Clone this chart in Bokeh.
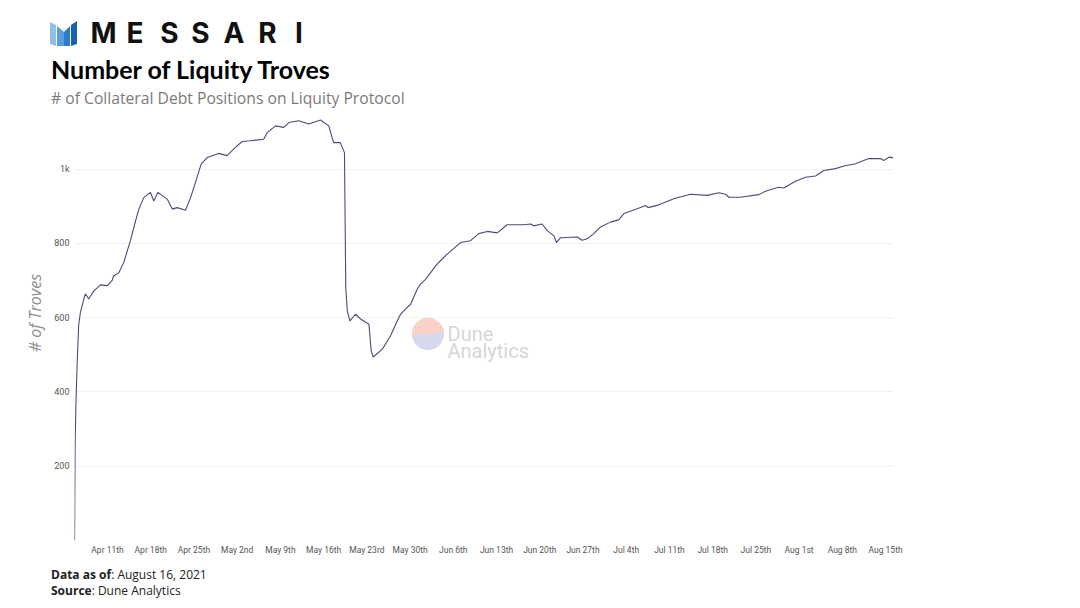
import numpy as np
import pandas as pd
from bokeh.plotting import figure
from bokeh.layouts import column
from bokeh.models import Range1d, FixedTicker, Label, PolyAnnotation, Div
from bokeh.embed import file_html
from bokeh.resources import INLINE

# ---------------- data ----------------
times = [
    "2021-04-05 16:00", "2021-04-05 18:00", "2021-04-05 21:00", "2021-04-06 02:00",
    "2021-04-06 08:00", "2021-04-06 15:00", "2021-04-07 04:00", "2021-04-07 10:00",
    "2021-04-07 23:00", "2021-04-08 19:00", "2021-04-09 21:00", "2021-04-11 00:00",
    "2021-04-11 18:00", "2021-04-12 00:00", "2021-04-12 20:00", "2021-04-13 15:00",
    "2021-04-14 17:00", "2021-04-15 13:00", "2021-04-16 02:00", "2021-04-16 21:00",
    "2021-04-17 23:00", "2021-04-18 12:00", "2021-04-19 04:00", "2021-04-20 16:00",
    "2021-04-21 12:00", "2021-04-22 07:00", "2021-04-23 15:00", "2021-04-24 11:00",
    "2021-04-25 06:00", "2021-04-26 04:00", "2021-04-27 04:00", "2021-04-29 00:00",
    "2021-04-30 09:00", "2021-05-01 11:00", "2021-05-02 19:00", "2021-05-04 04:00",
    "2021-05-06 07:00", "2021-05-06 21:00", "2021-05-08 05:00", "2021-05-09 13:00",
    "2021-05-10 09:00", "2021-05-11 23:00", "2021-05-13 14:00", "2021-05-15 12:00",
    "2021-05-16 20:00", "2021-05-17 05:00", "2021-05-17 15:00", "2021-05-18 17:00",
    "2021-05-19 09:00", "2021-05-19 14:00", "2021-05-19 20:00", "2021-05-20 06:00",
    "2021-05-21 04:00", "2021-05-22 00:00", "2021-05-23 08:00", "2021-05-23 17:00",
    "2021-05-24 01:00", "2021-05-25 12:00", "2021-05-26 20:00", "2021-05-27 22:00",
    "2021-05-28 11:00", "2021-05-29 06:00", "2021-05-30 02:00", "2021-05-31 04:00",
    "2021-05-31 17:00", "2021-06-01 12:00", "2021-06-03 09:00", "2021-06-03 22:00",
    "2021-06-05 00:00", "2021-06-07 04:00", "2021-06-08 19:00", "2021-06-10 03:00",
    "2021-06-11 12:00", "2021-06-13 03:00", "2021-06-14 17:00", "2021-06-17 10:00",
    "2021-06-18 12:00", "2021-06-19 01:00", "2021-06-20 09:00", "2021-06-21 05:00",
    "2021-06-22 07:00", "2021-06-22 17:00", "2021-06-23 09:00", "2021-06-26 02:00",
    "2021-06-26 21:00", "2021-06-27 16:00", "2021-06-28 18:00", "2021-06-29 20:00",
    "2021-07-01 11:00", "2021-07-02 19:00", "2021-07-03 15:00", "2021-07-05 19:00",
    "2021-07-07 03:00", "2021-07-07 12:00", "2021-07-09 00:00", "2021-07-11 17:00",
    "2021-07-14 10:00", "2021-07-17 03:00", "2021-07-19 00:00", "2021-07-20 02:00",
    "2021-07-20 15:00", "2021-07-22 12:00", "2021-07-25 11:00", "2021-07-26 13:00",
    "2021-07-28 17:00", "2021-07-29 12:00", "2021-07-31 10:00", "2021-08-02 01:00",
    "2021-08-03 16:00", "2021-08-05 00:00", "2021-08-06 21:00", "2021-08-08 06:00",
    "2021-08-10 03:00", "2021-08-12 07:00", "2021-08-14 04:00", "2021-08-14 17:00",
    "2021-08-15 13:00", "2021-08-16 06:00",
]
troves = [
    0, 250, 358, 475,
    580, 615, 650, 664,
    650, 672, 688, 686,
    700, 712, 721, 748,
    807, 860, 892, 923,
    937, 914, 937, 919,
    892, 896, 889, 923,
    964, 1013, 1031, 1042,
    1036, 1054, 1074, 1076,
    1080, 1098, 1116, 1112,
    1125, 1130, 1121, 1132,
    1116, 1094, 1071, 1071,
    1044, 681, 618, 591,
    609, 596, 582, 510,
    494, 515, 551, 591,
    609, 623, 636, 677,
    690, 703, 744, 753,
    771, 802, 807, 826,
    832, 828, 850, 850,
    852, 847, 852, 834,
    820, 802, 815, 817,
    808, 812, 826, 844,
    857, 863, 880, 893,
    902, 896, 902, 920,
    932, 929, 936, 932,
    924, 924, 931, 940,
    951, 949, 967, 978,
    981, 996, 1001, 1008,
    1014, 1028, 1028, 1023,
    1032, 1030,
]

tick_dates = [
    "2021-04-11", "2021-04-18", "2021-04-25", "2021-05-02", "2021-05-09",
    "2021-05-16", "2021-05-23", "2021-05-30", "2021-06-06", "2021-06-13",
    "2021-06-20", "2021-06-27", "2021-07-04", "2021-07-11", "2021-07-18",
    "2021-07-25", "2021-08-01", "2021-08-08", "2021-08-15",
]
tick_labels = [
    "Apr 11th", "Apr 18th", "Apr 25th", "May 2nd", "May 9th",
    "May 16th", "May 23rd", "May 30th", "Jun 6th", "Jun 13th",
    "Jun 20th", "Jun 27th", "Jul 4th", "Jul 11th", "Jul 18th",
    "Jul 25th", "Aug 1st", "Aug 8th", "Aug 15th",
]
y_ticks = [200, 400, 600, 800, 1000]
y_tick_labels = ["200", "400", "600", "800", "1k"]

title_text = "Number of Liquity Troves"
subtitle_text = "# of Collateral Debt Positions on Liquity Protocol"
brand_text = "MESSARI"
data_as_of = "August 16, 2021"
source_text = "Dune Analytics"

# ---------------- layout constants (page pixels) ----------------
W = 1080
HEADER_H = 85
FOOTER_TOP = 565
FL, FR, FT, FB = 74, 893, 85, 540   # plot frame edges
FIG_H = FOOTER_TOP - HEADER_H
FOOTER_H = 608 - FOOTER_TOP

epoch = pd.Timestamp("1970-01-01")


def to_ms(s):
    return float((pd.Timestamp(s) - epoch) // pd.Timedelta("1ms"))


x_ms = [to_ms(t) for t in times]
tick_ms = [to_ms(d) for d in tick_dates]
x_start = to_ms("2021-04-05 15:45")
x_end = to_ms("2021-08-16 06:50")

# ---------------- header ----------------
letter_centers = [103.5, 135, 169.5, 200.5, 234, 267.5, 299]
letters_html = "".join(
    f'<div style="position:absolute;left:{c - 15}px;top:18.5px;width:30px;'
    f'text-align:center;font-family:Inter;font-weight:700;font-size:28px;'
    f'line-height:1;color:#111111;">{ch}</div>'
    for ch, c in zip(brand_text, letter_centers))
header_html = (
    f'<div style="position:relative;width:{W}px;height:{HEADER_H}px;overflow:visible;">'
    '<svg style="position:absolute;left:50px;top:20px" width="28" height="27" '
    'viewBox="0 0 28 27">'
    '<polygon points="0,2 6,5 6,26 0,24" fill="#8ec1ea"/>'
    '<polygon points="7,6 14,12 14,26 7,26" fill="#5a9fdc"/>'
    '<polygon points="14,12 20,6 20,26 14,26" fill="#2f7cc9"/>'
    '<polygon points="21,5 27,1 27,24 21,26" fill="#1763b3"/>'
    '</svg>'
    + letters_html +
    '<div style="position:absolute;left:51px;top:56.8px;font-family:Lato;'
    'font-weight:700;font-size:25px;line-height:1;color:#000000;white-space:nowrap;">'
    f'{title_text}</div>'
    '<div style="position:absolute;left:51px;top:91.3px;font-family:\'Open Sans\';'
    'font-size:15.7px;line-height:1;color:#7a7a7a;white-space:nowrap;">'
    f'{subtitle_text}</div>'
    '</div>')
header = Div(text=header_html, width=W, height=HEADER_H, margin=0,
             styles={"overflow": "visible", "z-index": "2"})

# ---------------- footer ----------------
footer_html = (
    f'<div style="position:relative;width:{W}px;height:{FOOTER_H}px;'
    'font-family:\'Open Sans\';font-size:12px;line-height:1;color:#222222;">'
    '<div style="position:absolute;left:51px;top:3.8px;white-space:nowrap;">'
    f'<b>Data as of</b>: {data_as_of}</div>'
    '<div style="position:absolute;left:51px;top:20.3px;white-space:nowrap;">'
    f'<b>Source</b>: {source_text}</div>'
    '</div>')
footer = Div(text=footer_html, width=W, height=FOOTER_H, margin=0)

# ---------------- figure ----------------
px_per_unit = (539.5 - 168.0) / 1000.0
y_top = (FB - FT) / px_per_unit

p = figure(width=W, height=FIG_H, output_backend="svg", toolbar_location=None,
           x_range=Range1d(x_start, x_end), y_range=Range1d(0, y_top),
           min_border_left=FL, min_border_right=W - FR, min_border_top=0,
           min_border_bottom=FIG_H - (FB - FT), margin=0)
p.title.visible = False
p.outline_line_color = None
p.background_fill_color = None
p.border_fill_color = None

p.line(x_ms, troves, line_color="#4b4a80", line_width=1.1)

p.xaxis.ticker = FixedTicker(ticks=tick_ms)
p.xaxis.major_label_overrides = {t: lab for t, lab in zip(tick_ms, tick_labels)}
p.xaxis.axis_line_color = None
p.xaxis.major_tick_line_color = None
p.xaxis.minor_tick_line_color = None
p.xaxis.major_tick_out = 0
p.xaxis.major_tick_in = 0
p.xaxis.major_label_standoff = 4
p.xaxis.major_label_text_font = "Roboto"
p.xaxis.major_label_text_font_size = "8.5px"
p.xaxis.major_label_text_color = "#555555"

p.yaxis.ticker = FixedTicker(ticks=y_ticks)
p.yaxis.major_label_overrides = {t: lab for t, lab in zip(y_ticks, y_tick_labels)}
p.yaxis.axis_line_color = None
p.yaxis.major_tick_line_color = None
p.yaxis.minor_tick_line_color = None
p.yaxis.major_tick_out = 0
p.yaxis.major_tick_in = 0
p.yaxis.major_label_standoff = 5
p.yaxis.major_label_text_font = "Roboto"
p.yaxis.major_label_text_font_size = "9px"
p.yaxis.major_label_text_color = "#555555"
p.yaxis.axis_label = "# of Troves"
p.yaxis.axis_label_text_font = "Open Sans"
p.yaxis.axis_label_text_font_style = "italic"
p.yaxis.axis_label_text_font_size = "16px"
p.yaxis.axis_label_text_color = "#8c8c8c"
p.yaxis.axis_label_standoff = 5

p.xgrid.grid_line_color = None
p.ygrid.grid_line_color = "#f0f0f0"
p.ygrid.grid_line_width = 1


# annotation screen units are measured from the frame's bottom-left corner
def sx(px):
    return px - FL


def sy(py):
    return FB - py


# watermark
cx, cy, r = 427.5, 333.5, 16.0
ang = np.linspace(0, 2 * np.pi, 60)
p.add_layout(PolyAnnotation(xs=[sx(v) for v in cx + r * np.cos(ang)],
                            ys=[sy(v) for v in cy + r * np.sin(ang)],
                            xs_units="screen", ys_units="screen",
                            fill_color="#d6d8eb", fill_alpha=1.0, line_color=None))
top_ang = np.linspace(np.radians(-12), np.radians(-192), 40)
arc_x = cx + r * np.cos(top_ang)
arc_y = cy + r * np.sin(top_ang)
bx = np.linspace(arc_x[-1], arc_x[0], 20)
by = cy + 3.3 * (-(bx - cx) / r) + 1.2 * np.sin(np.pi * (bx - cx) / r)
p.add_layout(PolyAnnotation(xs=[sx(v) for v in np.concatenate([arc_x, bx])],
                            ys=[sy(v) for v in np.concatenate([arc_y, by])],
                            xs_units="screen", ys_units="screen",
                            fill_color="#f8d2c6", fill_alpha=1.0, line_color=None))
for txt, base in (("Dune", 333), ("Analytics", 350)):
    p.add_layout(Label(x=sx(447), y=sy(base), x_units="screen", y_units="screen",
                       text=txt, text_font="Roboto", text_font_size="20px",
                       text_color="#d6d6d6", text_baseline="alphabetic"))

layout = column(header, p, footer, spacing=0, margin=0)
open("out.html", "w").write(file_html(layout, INLINE))
